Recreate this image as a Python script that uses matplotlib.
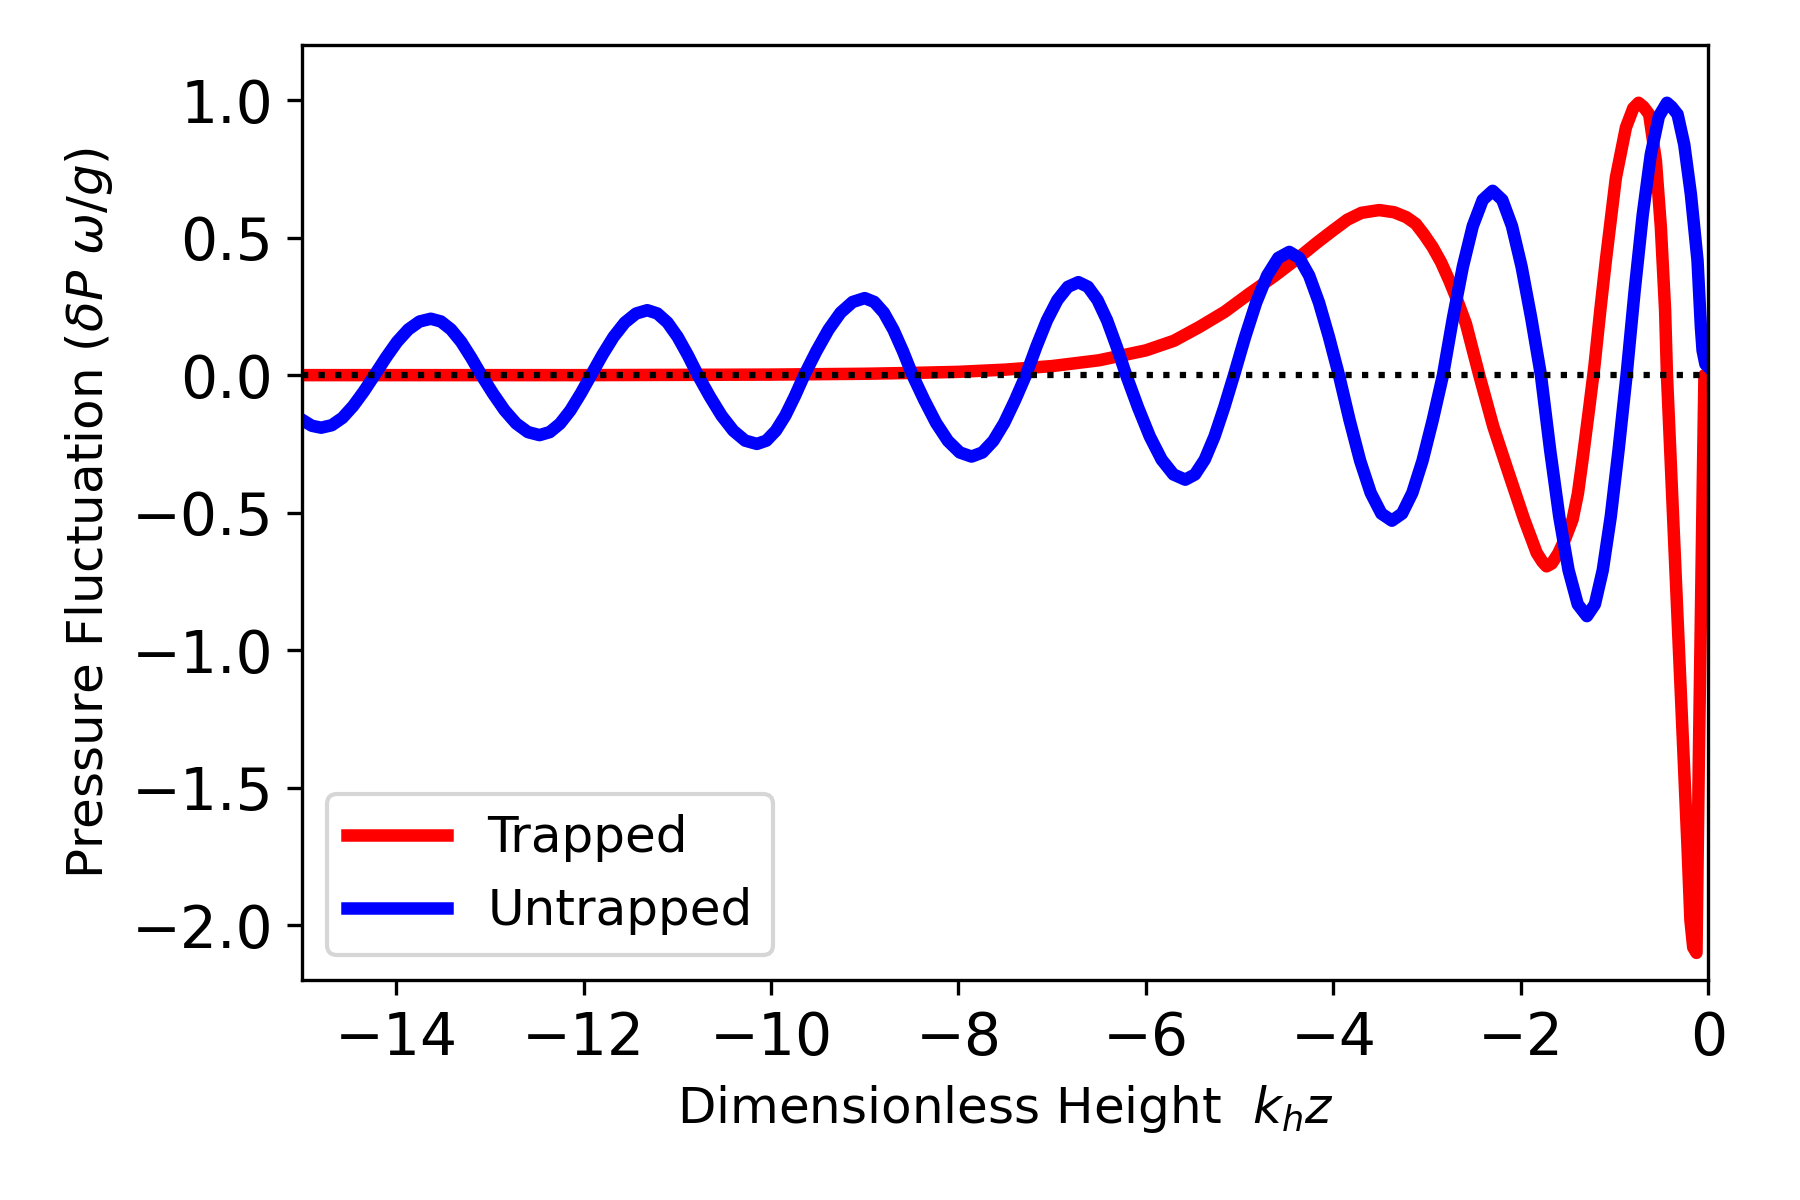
import numpy as np
from matplotlib import pyplot as plt

# values
z_trapped = [-15.0, -12.0, -10.0, -9.0, -8.5, -8.0, -7.5, -7.0, -6.5, -6.0,
             -5.7, -5.43, -5.16, -4.897, -4.63, -4.364, -4.18, -4.008, -3.85, -3.70,
             -3.51, -3.35, -3.22, -3.12, -3.03, -2.94, -2.85, -2.763, -2.675, -2.585,
             -2.50, -2.443, -2.293, -2.141, -1.963, -1.83, -1.77, -1.725, -1.67, -1.60,
             -1.52, -1.447, -1.39, -1.341, -1.27, -1.215, -1.15, -1.092, -0.985, -0.878,
             -0.80, -0.743, -0.69, -0.63, -0.558, -0.505, -0.46, -0.44, -0.37, -0.28,
             -0.22, -0.19, -0.16, -0.125, -0.10, -0.057, -0.04, 0.0]
p_trapped = [0.0, 0.0, 0.002, 0.005, 0.008, 0.012, 0.02, 0.033, 0.054, 0.09,
             0.125, 0.175, 0.23, 0.296, 0.36, 0.429, 0.48, 0.525, 0.565, 0.59,
             0.60, 0.592, 0.574, 0.55, 0.51, 0.465, 0.41, 0.344, 0.27, 0.187,
             0.075, 0.0, -0.187, -0.344, -0.525, -0.646, -0.678, -0.695, -0.685, -0.648,
             -0.59, -0.525, -0.43, -0.308, -0.12, 0.03, 0.24, 0.417, 0.718, 0.90,
             0.97, 0.99, 0.975, 0.948, 0.779, 0.537, 0.236, 0.0, -0.55, -1.25,
             -1.72, -1.98, -2.08, -2.10, -1.40, -0.375, 0.0, 0.0]

z_untrapped = [-15.0, -14.90, -14.80,
               -14.686, -14.572, -14.458, -14.344, -14.23,
               -14.11, -13.99, -13.87, -13.75, -13.63,
               -13.522, -13.414, -13.306, -13.198, -13.09,
               -12.966, -12.842, -12.718, -12.594, -12.47,
               -12.36, -12.25, -12.14, -12.03, -11.92,
               -11.80, -11.68, -11.56, -11.44, -11.32,
               -11.212, -11.104, -10.996, -10.888, -10.78,
               -10.654, -10.528, -10.402, -10.276, -10.15,
               -10.049, -9.948, -9.847, -9.746, -9.645,
               -9.516, -9.387, -9.258, -9.129, -9.00,
               -8.898, -8.796, -8.694, -8.592, -8.49,
               -8.364, -8.238, -8.112, -7.986, -7.86,
               -7.744, -7.628, -7.512, -7.396, -7.28,
               -7.168, -7.056, -6.944, -6.832, -6.72,
               -6.618, -6.516, -6.414, -6.312, -6.21,
               -6.084, -5.958, -5.832, -5.706, -5.58,
               -5.476, -5.372, -5.268, -5.164, -5.06,
               -4.942, -4.824, -4.706, -4.588, -4.47,
               -4.364, -4.258, -4.152, -4.046, -3.94,
               -3.827, -3.714, -3.601, -3.488, -3.375,
               -3.266, -3.157, -3.048, -2.939, -2.83,
               -2.724, -2.618, -2.512, -2.406, -2.30,
               -2.197, -2.094, -1.991, -1.888, -1.785,
               -1.687, -1.589, -1.490, -1.392, -1.294,
               -1.209, -1.125, -1.040, -0.956, -0.871,
               -0.785, -0.699, -0.613, -0.526, -0.44,
               -0.39, -0.327, -0.256, -0.185, -0.114, -0.078, -0.06, -0.03, 0.0]
p_untrapped = [-0.163, -0.184, -0.191,
               -0.182, -0.155, -0.112, -0.059, 0.0,
               0.063, 0.121, 0.166, 0.195, 0.205,
               0.195, 0.166, 0.121, 0.063, 0.0,
               -0.067, -0.128, -0.176, -0.207, -0.218,
               -0.207, -0.176, -0.128, -0.067, 0.0,
               0.073, 0.139, 0.191, 0.224, 0.236,
               0.224, 0.191, 0.139, 0.073, 0.0,
               -0.077, -0.147, -0.202, -0.238, -0.25,
               -0.238, -0.202, -0.147, -0.077, 0.0,
               0.087, 0.165, 0.227, 0.266, 0.28,
               0.266, 0.227, 0.165, 0.087, 0.0,
               -0.091, -0.174, -0.239, -0.281, -0.296,
               -0.281, -0.239, -0.174, -0.091, 0.0,
               0.104, 0.199, 0.273, 0.321, 0.338,
               0.321, 0.273, 0.199, 0.104, 0.0,
               -0.117, -0.223, -0.307, -0.361, -0.38,
               -0.361, -0.307, -0.223, -0.117, 0.0,
               0.138, 0.263, 0.362, 0.426, 0.448,
               0.426, 0.362, 0.263, 0.138, 0.0,
               -0.163, -0.311, -0.428, -0.503, -0.529,
               -0.503, -0.428, -0.311, -0.163, 0.0,
               0.207, 0.394, 0.542, 0.637, 0.67,
               0.637, 0.542, 0.394, 0.207, 0.0,
               -0.271, -0.515, -0.709, -0.833, -0.876,
               -0.833, -0.709, -0.515, -0.271, 0.0,
               0.306, 0.582, 0.801, 0.941, 0.99,
               0.975, 0.948, 0.839, 0.658, 0.417, 0.175, 0.09, 0.04, 0.03]

fig = plt.figure(figsize=(6, 4), dpi=300)
ax = fig.add_axes([0.168, 0.183, 0.781, 0.7795])

ax.plot(z_trapped, p_trapped, color="red", lw=3, label="Trapped")
ax.plot(z_untrapped, p_untrapped, color="blue", lw=3, label="Untrapped")
ax.plot([-15, 0], [0, 0], "k:", lw=1.5)

ax.set_xlim(-15, 0)
ax.set_ylim(-2.2, 1.2)
ax.set_xticks([-14, -12, -10, -8, -6, -4, -2, 0])
ax.set_yticks([-2.0, -1.5, -1.0, -0.5, 0.0, 0.5, 1.0])
ax.tick_params(labelsize=14)
ax.set_xlabel(r"Dimensionless Height  $k_h z$", fontsize=12)
ax.set_ylabel(r"Pressure Fluctuation ($\delta P\ \omega/g$)", fontsize=12)
ax.legend(loc="lower left", fontsize=12)

fig.savefig("out.png", dpi=300)
